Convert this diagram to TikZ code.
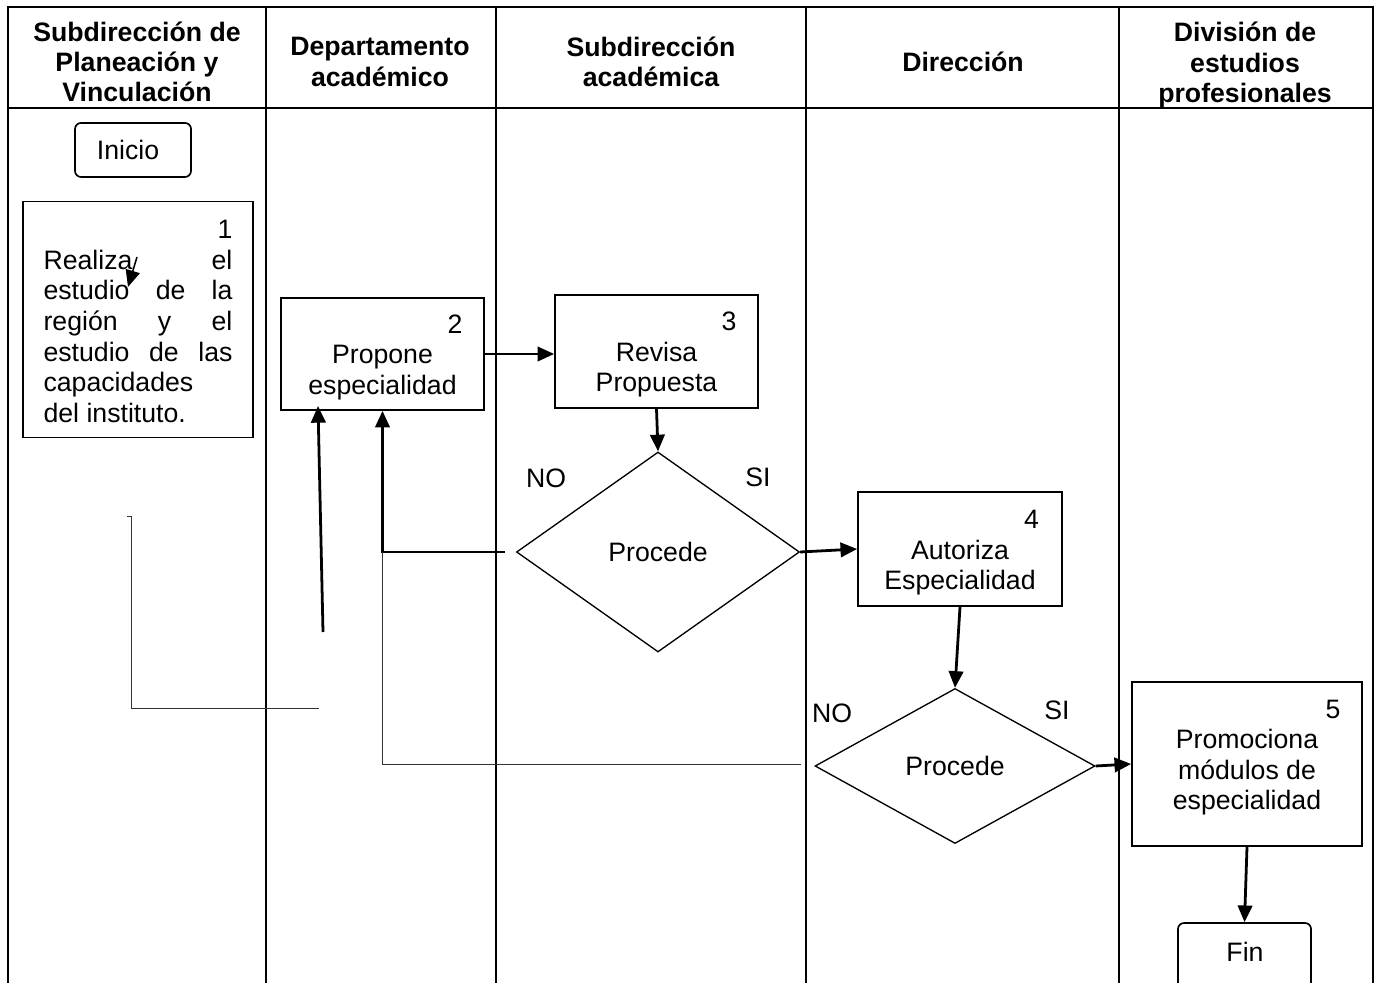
\documentclass[tikz,border=0pt]{standalone}
\usepackage{fontspec}
\setmainfont{Liberation Sans}
\usetikzlibrary{arrows.meta,shapes.geometric}
\begin{document}
\begin{tikzpicture}[x=0.45pt,y=-0.45pt,
  tbl/.style={line width=1.05pt},
  hdr/.style={font=\bfseries\fontsize{12}{13.6}\selectfont, align=center, inner sep=0pt},
  txt/.style={font=\fontsize{12}{13.75}\selectfont, align=center, inner sep=0pt},
  procbox/.style={draw, line width=0.75pt, inner sep=0pt, font=\fontsize{12}{13.75}\selectfont, align=center},
  decis/.style={draw, diamond, line width=0.6pt, inner sep=0pt, font=\fontsize{12}{13.75}\selectfont},
  arr/.style={line width=1.25pt, -{Triangle[length=7.5pt,width=6.5pt]}},
  thinln/.style={line width=0.45pt, black!80},
]
\useasboundingbox (0,0) rectangle (1377,983);
\clip (0,0) rectangle (1377,983);
\fill[white] (0,0) rectangle (1377,983);

% table
\draw[tbl] (8,990) -- (8,7) -- (1373,7) -- (1373,990);
\draw[tbl] (8,108) -- (1373,108);
\foreach \x in {266,496,806,1119} \draw[tbl] (\x,7) -- (\x,990);

% headers
\node[hdr] (h1) at (137,62) {Subdirección de\\Planeación y\\Vinculación};
\node[hdr] (h2) at (380,62) {Departamento\\académico};
\node[hdr] (h3) at (651,62) {Subdirección\\académica};
\node[hdr] (h4) at (963,62) {Dirección};
\node[hdr] (h5) at (1245,65) {División de\\estudios\\profesionales};

% start
\node[procbox, rounded corners=2.7pt, minimum width=52.2pt, minimum height=24.3pt] (ini) at (133,150) {Inicio\hspace*{4.5pt}};

% box 1
\node[procbox, minimum width=103.5pt, minimum height=106.2pt] (b1) at (138,319.5)
  {\rule{0pt}{10pt}\makebox[85pt][r]{1}\\
   \makebox[85pt][s]{Realiza el}\\
   \makebox[85pt][s]{estudio de la}\\
   \makebox[85pt][s]{región y el}\\
   \makebox[85pt][s]{estudio de las}\\
   \makebox[85pt][l]{capacidades}\\
   \makebox[85pt][l]{del instituto.}};

% box 2
\node[procbox, minimum width=91.35pt, minimum height=50.4pt] (b2) at (382.5,354)
  {\rule{0pt}{11.3pt}\makebox[72pt][r]{2}\\Propone\\especialidad};

% box 3
\node[procbox, minimum width=91.35pt, minimum height=50.85pt] (b3) at (656.5,351.5)
  {\rule{0pt}{11.3pt}\makebox[72pt][r]{3}\\Revisa\\Propuesta};

% decision 1
\node[decis, minimum width=127.35pt, minimum height=90pt] (d1) at (658,552) {Procede};
\node[txt] (no1) at (546,478) {NO};
\node[txt] (si1) at (758,477) {SI};

% box 4
\node[procbox, minimum width=91.8pt, minimum height=51.3pt] (b4) at (960,549)
  {\rule{0pt}{11.6pt}\makebox[71pt][r]{4}\\Autoriza\\Especialidad};

% decision 2
\node[decis, minimum width=126pt, minimum height=69.75pt] (d2) at (955,766) {Procede};
\node[txt] (no2) at (832,713) {NO};
\node[txt] (si2) at (1057,710) {SI};

% box 5
\node[procbox, minimum width=103.5pt, minimum height=73.8pt] (b5) at (1247,764) {};
\node[txt] (t5) at (1247,757.5) {\makebox[84pt][r]{5}\\Promociona\\módulos de\\especialidad};

% end
\node[procbox, rounded corners=2.7pt, minimum width=59.85pt, minimum height=45pt] (fin) at (1244.5,973) {};
\node[txt] (tfin) at (1245,952) {Fin};

% connectors
\coordinate (s1a) at (137,257);
\coordinate (s1b) at (128,287);
\draw[arr, line width=0.7pt] (s1a) -- (s1b);

\draw[arr] (b2.east) -- (b2.east -| b3.west);
\draw[arr] (b3.south) -- (d1.north);

\coordinate (no1s) at (505,552);
\coordinate (j1) at (b2.south |- no1s);
\draw[arr] (no1s) -- (j1) -- (b2.south);

\coordinate (no2s) at (801,764);
\draw[thinln] (no2s) -| (j1);

\coordinate (up1a) at (323,632);
\coordinate (up1b) at (318,406);
\draw[arr] (up1a) -- (up1b);

\coordinate (la) at (127,517);
\coordinate (lb) at (131,517);
\coordinate (lc) at (131,708);
\coordinate (ld) at (319,708);
\draw[thinln] (la) -- (lb) -- (lc) -- (ld);

\draw[arr] (d1.east) -- (b4.west);
\draw[arr] (b4.south) -- (d2.north);
\draw[arr] (d2.east) -- (b5.west);
\draw[arr] (b5.south) -- (fin.north);
\end{tikzpicture}
\end{document}
